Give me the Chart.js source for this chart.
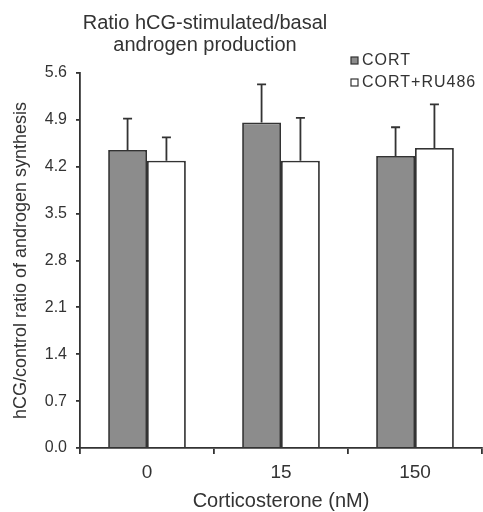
<!DOCTYPE html>
<html>
<head>
<meta charset="utf-8">
<script src="https://cdn.jsdelivr.net/npm/chart.js@4.4.1/dist/chart.umd.min.js"></script>
<style>
  html, body { margin: 0; padding: 0; background: #fff; }
  #wrap { width: 483px; height: 512px; position: relative; }
</style>
</head>
<body>
<div id="wrap"><canvas id="chart"></canvas></div>
<script>
// Values
const categories = ['0', '15', '150'];
const seriesLabels = ['CORT', 'CORT+RU486'];
const cortValues = [4.45, 4.86, 4.36];
const cortErrors = [0.47, 0.57, 0.43];
const ruValues = [4.29, 4.29, 4.48];
const ruErrors = [0.35, 0.64, 0.65];
const yTicks = [0, 0.7, 1.4, 2.1, 2.8, 3.5, 4.2, 4.9, 5.6];
const titleLines = ['Ratio hCG-stimulated/basal', 'androgen production'];
const xTitle = 'Corticosterone (nM)';
const yTitle = 'hCG/control ratio of androgen synthesis';

const ink = '#333333';
const fontFamily = "'Liberation Sans', Arial, sans-serif";

// Upward-only error bars with a cap
const errorBars = {
    id: 'errorBars',
    afterDatasetsDraw(chart) {
        const { ctx, scales: { y } } = chart;
        ctx.save();
        ctx.strokeStyle = ink;
        ctx.lineWidth = 1.8;
        chart.data.datasets.forEach((ds, i) => {
            const meta = chart.getDatasetMeta(i);
            meta.data.forEach((bar, j) => {
                const top = y.getPixelForValue(ds.data[j] + ds.errors[j]);
                const base = y.getPixelForValue(ds.data[j]);
                ctx.beginPath();
                ctx.moveTo(bar.x, base);
                ctx.lineTo(bar.x, top);
                ctx.moveTo(bar.x - 4.5, top);
                ctx.lineTo(bar.x + 4.5, top);
                ctx.stroke();
            });
        });
        ctx.restore();
    }
};

// Two-line title and the small legend in the top right
const annotations = {
    id: 'annotations',
    afterDraw(chart) {
        const { ctx } = chart;
        ctx.save();
        ctx.fillStyle = ink;
        ctx.textAlign = 'center';
        ctx.textBaseline = 'middle';
        ctx.font = `20px ${fontFamily}`;
        titleLines.forEach((line, i) => ctx.fillText(line, 205, 23 + i * 22));

        ctx.font = `16px ${fontFamily}`;
        ctx.letterSpacing = '1px';
        ctx.textAlign = 'left';
        chart.data.datasets.forEach((ds, i) => {
            const y0 = 57 + i * 22;
            ctx.fillStyle = ds.backgroundColor;
            ctx.fillRect(351, y0, 7, 7);
            ctx.strokeStyle = ink;
            ctx.lineWidth = 1.2;
            ctx.strokeRect(351, y0, 7, 7);
            ctx.fillStyle = ink;
            ctx.fillText(ds.label, 362, y0 + 4);
        });
        ctx.restore();
    }
};

new Chart(document.getElementById('chart'), {
    type: 'bar',
    data: {
        labels: categories,
        datasets: [
            {
                label: seriesLabels[0],
                data: cortValues,
                errors: cortErrors,
                backgroundColor: '#8c8c8c',
                borderColor: ink,
                borderWidth: 1.8,
            },
            {
                label: seriesLabels[1],
                data: ruValues,
                errors: ruErrors,
                backgroundColor: '#ffffff',
                borderColor: ink,
                borderWidth: 1.8,
            }
        ]
    },
    options: {
        responsive: true,
        maintainAspectRatio: false,
        animation: false,
        devicePixelRatio: 1,
        layout: { padding: { top: 73, right: 1, left: 0, bottom: 0 } },
        datasets: { bar: { categoryPercentage: 0.58, barPercentage: 1.0 } },
        plugins: {
            legend: { display: false },
            title: { display: false },
            tooltip: { enabled: false }
        },
        scales: {
            x: {
                afterFit: (scale) => { scale.height = 64; },
                grid: { drawOnChartArea: false, drawTicks: true, tickLength: 6, tickColor: ink, lineWidth: 1.8, offset: true },
                border: { display: true, color: ink, width: 1.8 },
                ticks: { color: ink, font: { family: fontFamily, size: 19 }, padding: 7 },
                title: {
                    display: true, text: xTitle, color: ink,
                    font: { family: fontFamily, size: 20, lineHeight: 1.1 },
                    padding: { top: 0, bottom: 0 }
                }
            },
            y: {
                min: 0,
                max: 5.6,
                afterFit: (scale) => { scale.width = 80; },
                afterBuildTicks: (scale) => { scale.ticks = yTicks.map(v => ({ value: v })); },
                grid: { drawOnChartArea: false, drawTicks: true, tickLength: 4, tickColor: ink, lineWidth: 1.8 },
                border: { display: true, color: ink, width: 1.8 },
                ticks: {
                    color: ink,
                    font: { family: fontFamily, size: 16 },
                    padding: 9,
                    callback: (v) => Number(v).toFixed(1)
                },
                title: {
                    display: true, text: yTitle, color: ink,
                    font: { family: fontFamily, size: 18, lineHeight: 1.2 },
                    padding: { top: 10, bottom: 0 }
                }
            }
        }
    },
    plugins: [errorBars, annotations]
});
</script>
</body>
</html>
